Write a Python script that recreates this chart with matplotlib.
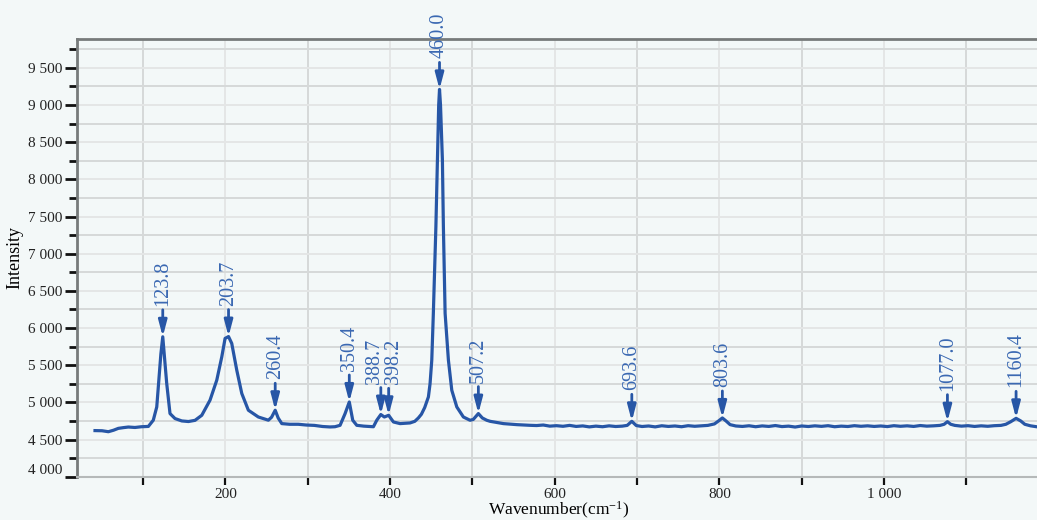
import matplotlib
matplotlib.use("Agg")
import matplotlib.pyplot as plt
from matplotlib.ticker import MultipleLocator, FuncFormatter
import numpy as np

# Raman spectrum: wavenumber (cm-1) and intensity (counts)
wavenumber = [
    41.5, 50, 57.7, 64, 69.8, 76, 82, 90, 98, 106.3, 112.3, 116.5, 119.3, 121.5,
    123.8, 126.2, 128.6, 132.6, 138.7, 146.9, 155, 163.0, 171.2, 181.2, 189.4,
    195.5, 199.5, 203.7, 207.6, 213.7, 219.8, 227.8, 239.9, 252.1, 256, 260.4,
    264, 268.4, 278, 288.5, 298, 308, 318, 327, 333, 339.2, 345.3, 350.4, 354.6,
    359.5, 368, 379.7, 383.8, 388.7, 393.0, 398.2, 404.0, 412.1, 424.2, 430,
    434.3, 438, 442, 446.5, 448.5, 450.6, 452.5, 455.6, 457.4, 459, 460.0, 461.2,
    463.5, 464.7, 466.8, 470.8, 474.9, 481.0, 489.0, 497.1, 501, 507.2, 512,
    517.4, 521.4, 537.6, 554, 570, 578, 586, 594, 602, 610, 618, 626, 634, 642,
    650, 658, 666, 674, 682, 688, 693.6, 699, 706, 714, 722, 730, 738, 746, 754,
    762, 770, 778, 786, 794, 799, 803.6, 808, 813, 820, 828, 836, 844, 852, 860,
    868, 876, 884, 892, 900, 908, 916, 924, 932, 940, 948, 956, 964, 972, 980,
    988, 996, 1004, 1012, 1020, 1028, 1036, 1044, 1052, 1060, 1068, 1073, 1077.0,
    1081, 1086, 1094, 1102, 1110, 1118, 1126, 1134, 1142, 1148, 1154, 1160.4,
    1166, 1171, 1178, 1186, 1194,
]
intensity = [
    4620, 4618, 4605, 4625, 4650, 4660, 4668, 4662, 4672, 4676, 4760, 4938, 5343, 5650,
    5882, 5560, 5254, 4849, 4782, 4750, 4742, 4758, 4826, 5029, 5298,
    5612, 5860, 5885, 5793, 5433, 5119, 4894, 4803, 4760, 4800, 4894,
    4790, 4714, 4705, 4705, 4695, 4690, 4675, 4669, 4672, 4691, 4849, 5005, 4759,
    4691, 4680, 4672, 4760, 4836, 4803, 4826, 4736, 4714, 4723, 4745,
    4790, 4840, 4930, 5073, 5250, 5568, 6197, 7365, 8264, 9000, 9210, 9000,
    8264, 7365, 6197, 5568, 5163, 4938, 4803, 4759, 4770, 4849, 4790,
    4759, 4745, 4714, 4700, 4691, 4688, 4695, 4680, 4686, 4678, 4690, 4676, 4683, 4670,
    4680, 4672, 4684, 4675, 4680, 4690, 4745, 4688, 4675, 4682, 4670, 4685, 4676, 4682, 4672,
    4686, 4678, 4684, 4690, 4710, 4750, 4790, 4750, 4700, 4682, 4676, 4685, 4672, 4683, 4676,
    4688, 4674, 4680, 4668, 4682, 4675, 4684, 4677, 4686, 4672, 4680, 4675, 4686, 4678, 4684,
    4676, 4682, 4674, 4686, 4678, 4684, 4676, 4688, 4680, 4684, 4690, 4705, 4740,
    4705, 4690, 4680, 4686, 4676, 4684, 4678, 4686, 4690, 4705, 4740, 4785,
    4750, 4705, 4684, 4670, 4662,
]

# Annotated peak positions (cm-1)
peaks = [123.8, 203.7, 260.4, 350.4, 388.7, 398.2, 460.0, 507.2, 693.6, 803.6, 1077.0, 1160.4]
# horizontal nudge of a few labels (pixels) so neighbouring ones do not collide
label_nudge = {388.7: -6, 398.2: 5}

BG = "#f3f8f8"
LINE = "#2756a6"
LABEL = "#3a68b2"

plt.rcParams["font.family"] = ["Liberation Serif", "DejaVu Serif"]
plt.rcParams["mathtext.fontset"] = "custom"
plt.rcParams["mathtext.rm"] = "Liberation Serif"
plt.rcParams["mathtext.it"] = "Liberation Serif:italic"

fig = plt.figure(figsize=(10.37, 5.20), dpi=100, facecolor=BG)
ax = fig.add_axes([0.074, 0.0833, 0.929, 0.842])
ax.set_facecolor(BG)

ax.plot(wavenumber, intensity, color=LINE, lw=2.3, solid_joinstyle="round", zorder=3)

ax.set_xlim(19.3, 1189.6)
ax.set_ylim(4000, 9890)

# grid: alternating shades for major / minor lines
ax.xaxis.set_major_locator(MultipleLocator(200))
ax.xaxis.set_minor_locator(MultipleLocator(100))
ax.yaxis.set_major_locator(MultipleLocator(500))
ax.yaxis.set_minor_locator(MultipleLocator(250))
ax.grid(which="major", color="#e4e6e6", lw=1.4, zorder=0)
ax.grid(which="minor", color="#d6d9d9", lw=1.4, zorder=0)
ax.set_axisbelow(True)

fmt = FuncFormatter(lambda v, p: f"{v:,.0f}".replace(",", " "))
ax.xaxis.set_major_formatter(fmt)
ax.yaxis.set_major_formatter(fmt)

ax.tick_params(axis="y", which="major", length=9, width=2, color="#111111",
               labelsize=11, pad=1, labelcolor="#222222")
ax.tick_params(axis="y", which="minor", length=6, width=2, color="#111111")
ax.tick_params(axis="x", which="both", length=6, width=1.6, color="#111111",
               labelsize=11, pad=2.5, labelcolor="#222222")

for side in ("left", "top"):
    ax.spines[side].set_color("#777b7b")
    ax.spines[side].set_linewidth(2)
ax.spines["bottom"].set_color("#b5b9b9")
ax.spines["bottom"].set_linewidth(1.5)
ax.spines["right"].set_visible(False)

ax.set_ylabel("Intensity", fontsize=13, labelpad=4)
ax.set_xlabel("Wavenumber(cm$^{-1}$)", fontsize=12.5, labelpad=-1)

# peak markers: arrow pointing down onto each peak with its wavenumber above
for pk in peaks:
    top = float(np.interp(pk, wavenumber, intensity))
    ax.annotate("", xy=(pk, top), xytext=(0, 27), textcoords="offset pixels",
                arrowprops=dict(arrowstyle="-|>,head_length=0.95,head_width=0.25",
                                color=LINE, lw=2.0, mutation_scale=10,
                                shrinkA=0, shrinkB=0),
                zorder=4, annotation_clip=False)
    ax.annotate(f"{pk:.1f}", xy=(pk, top),
                xytext=(label_nudge.get(pk, 0), 31), textcoords="offset pixels",
                rotation=90, ha="center", va="bottom", fontsize=14.5,
                color=LABEL, zorder=5, annotation_clip=False)

# the lowest y label sits just above the bottom edge
fig.canvas.draw()
for tick in ax.yaxis.get_major_ticks():
    if abs(tick.get_loc() - 4000) < 1e-6:
        tick.label1.set_verticalalignment("bottom")

fig.savefig("out.png", dpi=100, facecolor=BG)
